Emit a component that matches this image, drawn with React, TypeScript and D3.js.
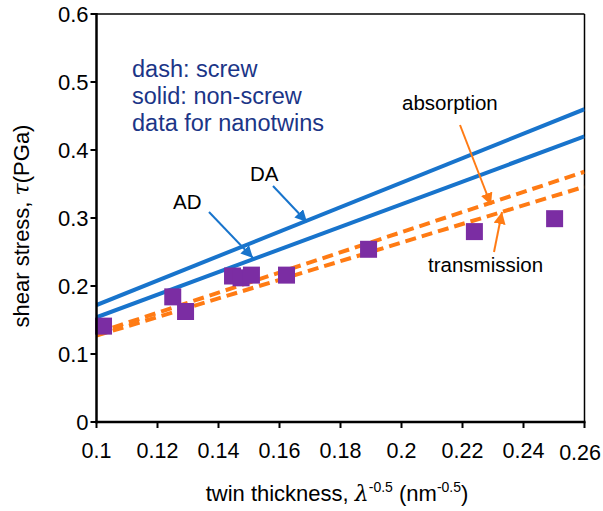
import React from "react";
import * as d3 from "d3";

const xTicks = [0.1, 0.12, 0.14, 0.16, 0.18, 0.2, 0.22, 0.24, 0.26];
const yTicks = [0, 0.1, 0.2, 0.3, 0.4, 0.5, 0.6];
const lineX = [0.1, 0.26];
const daSolid = [0.172, 0.46];
const adSolid = [0.154, 0.42];
const absorptionDash = [0.131, 0.368];
const transmissionDash = [0.127, 0.346];
const dataX = [0.1023, 0.125, 0.1292, 0.1446, 0.1474, 0.1508, 0.1623, 0.1892, 0.2239, 0.2502];
const dataY = [0.141, 0.184, 0.1625, 0.2147, 0.212, 0.216, 0.216, 0.254, 0.28, 0.299];
const noteLines = ["dash: screw", "solid: non-screw", "data for nanotwins"];

const W = 603, H = 511;
const M = { left: 96.5, right: 584.5, top: 14, bottom: 422 };
const BLUE = "#1874cc";
const ORANGE = "#ff7b14";
const PURPLE = "#7b2da3";
const NAVY = "#1b3587";
const FONT = "'Liberation Sans', Arial, sans-serif";

export default function App() {
  const x = d3.scaleLinear().domain([0.1, 0.26]).range([M.left, M.right]);
  const y = d3.scaleLinear().domain([0, 0.6]).range([M.bottom, M.top]);
  const line = d3.line<[number, number]>().x(d => x(d[0])).y(d => y(d[1]));
  const mk = (vals: number[]) => line(lineX.map((v, i) => [v, vals[i]] as [number, number])) || "";
  const sq = 17;
  return (
    <svg width={W} height={H} style={{ position: "absolute", left: 0, top: 0 }} fontFamily={FONT}>
      <defs>
        <marker id="ab" viewBox="0 0 10 10" refX="10" refY="5" markerWidth="6" markerHeight="6" orient="auto" markerUnits="strokeWidth">
          <path d="M0,0 L10,5 L0,10 z" fill={BLUE} />
        </marker>
        <marker id="ao" viewBox="0 0 10 10" refX="10" refY="5" markerWidth="6" markerHeight="6" orient="auto" markerUnits="strokeWidth">
          <path d="M0,0 L10,5 L0,10 z" fill={ORANGE} />
        </marker>
        <clipPath id="clip"><rect x={M.left} y={M.top} width={M.right - M.left} height={M.bottom - M.top} /></clipPath>
      </defs>
      <rect x={0} y={0} width={W} height={H} fill="#fff" />
      <line x1={M.left} x2={M.right} y1={M.top} y2={M.top} stroke="#000" strokeWidth={1.5} />
      <line x1={M.right} x2={M.right} y1={M.top} y2={M.bottom} stroke="#000" strokeWidth={1.5} />
      <g clipPath="url(#clip)">
        <path d={mk(daSolid)} stroke={BLUE} strokeWidth={4} fill="none" />
        <path d={mk(adSolid)} stroke={BLUE} strokeWidth={4} fill="none" />
        <path d={mk(absorptionDash)} stroke={ORANGE} strokeWidth={4} fill="none" strokeDasharray="11,6" />
        <path d={mk(transmissionDash)} stroke={ORANGE} strokeWidth={4} fill="none" strokeDasharray="11,6" />
      </g>
      {dataX.map((v, i) => (
        <rect key={i} x={x(v) - sq / 2} y={y(dataY[i]) - sq / 2} width={sq} height={sq} fill={PURPLE} />
      ))}
      <line x1={M.left} x2={M.left} y1={M.top - 1} y2={M.bottom + 1.25} stroke="#000" strokeWidth={2.5} />
      <line x1={M.left - 1.25} x2={M.right + 1} y1={M.bottom} y2={M.bottom} stroke="#000" strokeWidth={2.5} />
      {yTicks.map(t => (
        <g key={t}>
          <line x1={M.left - 6} x2={M.left} y1={y(t)} y2={y(t)} stroke="#000" strokeWidth={2} />
          <text x={M.left - 8} y={y(t)} dy="0.36em" textAnchor="end" fontSize={22}>{t}</text>
        </g>
      ))}
      {xTicks.map((t, i) => {
        const last = i === xTicks.length - 1;
        return (
          <g key={t}>
            <line x1={x(t)} x2={x(t)} y1={M.bottom} y2={M.bottom + 6} stroke="#000" strokeWidth={2} />
            <text x={last ? W - 2 : x(t)} y={last ? 460 : 458} textAnchor={last ? "end" : "middle"} fontSize={21.5}>{t}</text>
          </g>
        );
      })}
      <text transform="translate(29,226) rotate(-90)" textAnchor="middle" fontSize={22}>
        shear stress, <tspan fontFamily="'DejaVu Serif', serif" fontStyle="italic">τ</tspan>(PGa)
      </text>
      <text x={337} y={501} textAnchor="middle" fontSize={22}>
        twin thickness, <tspan fontFamily="'DejaVu Serif', serif" fontStyle="italic">λ</tspan>
        <tspan fontSize={14} dy={-9}>-0.5</tspan><tspan dy={9}> (nm</tspan>
        <tspan fontSize={14} dy={-9}>-0.5</tspan><tspan dy={9}>)</tspan>
      </text>
      {noteLines.map((s, i) => (
        <text key={s} x={132} y={77 + i * 27} fill={NAVY} fontSize={23.5}>{s}</text>
      ))}
      <text x={250} y={181} fontSize={20.5}>DA</text>
      <text x={173} y={209} fontSize={20.5}>AD</text>
      <text x={402} y={110} fontSize={20.5}>absorption</text>
      <text x={428} y={272} fontSize={20.5}>transmission</text>
      <line x1={273} y1={186} x2={307} y2={222} stroke={BLUE} strokeWidth={2} markerEnd="url(#ab)" />
      <line x1={209} y1={212} x2={253} y2={258} stroke={BLUE} strokeWidth={2} markerEnd="url(#ab)" />
      <line x1={460} y1={125} x2={491} y2={205} stroke={ORANGE} strokeWidth={2} markerEnd="url(#ao)" />
      <line x1={494} y1={252} x2={502} y2={212} stroke={ORANGE} strokeWidth={2} markerEnd="url(#ao)" />
    </svg>
  );
}
